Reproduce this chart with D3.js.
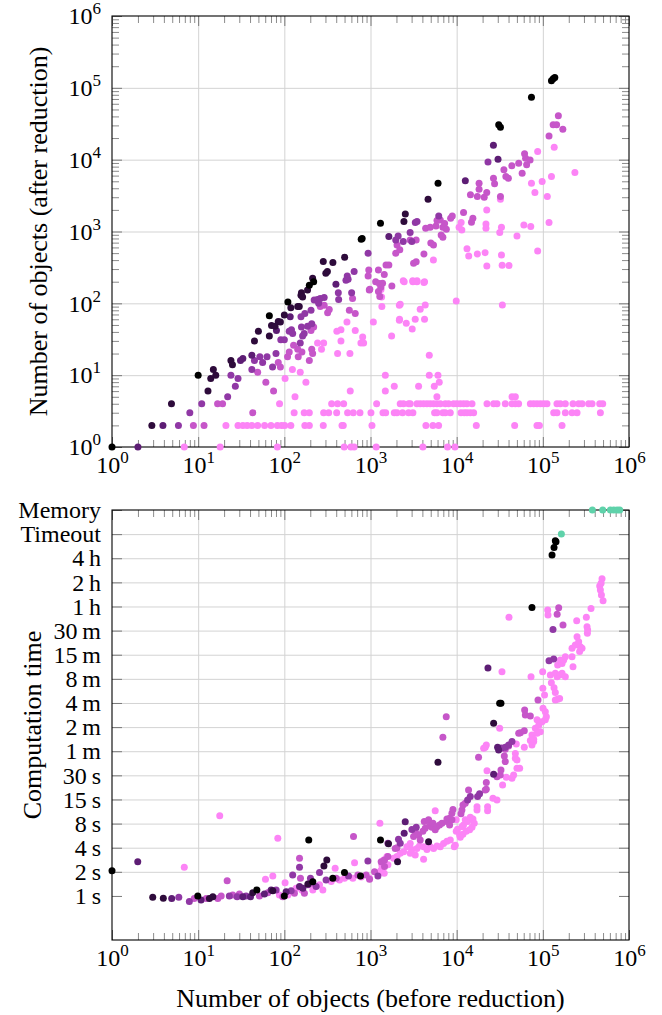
<!DOCTYPE html>
<html>
<head>
<meta charset="utf-8">
<script src="https://cdn.jsdelivr.net/npm/d3@7"></script>
<style>
	body { margin: 0; background: #fff; }
	svg, svg text { font-family: 'Liberation Serif', 'Tinos', 'DejaVu Serif', serif; fill: #000; }
	.tick-label text { font-size: 24px; }
	.axis-title { font-size: 26px; }
	.grid line { stroke: #d3d3d3; stroke-width: 1; }
	.frame { fill: none; stroke: #000; stroke-width: 1.1; }
</style>
</head>
<body>
<svg id="chart" width="662" height="1015" font-family="Liberation Serif, DejaVu Serif, serif"></svg>
<script>
/*
 *	reduction scatter: objects before / after reduction and computation time
 */
'use strict';

// ---- axis values -------------------------------------------------------
var decadeTicks = [1, 10, 100, 1e3, 1e4, 1e5, 1e6];
var decadeExponents = ['0', '1', '2', '3', '4', '5', '6'];
var timeTicks = [1, 2, 4, 8, 16, 32, 64, 128, 256, 512, 1024, 2048, 4096, 8192, 16384, 32768, 65536];
var timeLabels = ['1\u2009s', '2\u2009s', '4\u2009s', '8\u2009s', '15\u2009s', '30\u2009s', '1\u2009m', '2\u2009m', '4\u2009m',
	'8\u2009m', '15\u2009m', '30\u2009m', '1\u2009h', '2\u2009h', '4\u2009h', 'Timeout', 'Memory'];
var timeAxisMin = 0.282;

// ---- top chart: [objects before, objects after] ---------------------------
var reducedBlack = [[1, 1], [10, 10], [67, 67], [110, 104], [195, 179], [219, 200], [780, 782], [800, 800], [1306, 1303],
	[6080, 4710], [30760, 30550], [32210, 28380], [73800, 74100], [125900, 125900], [131800, 133400], [137700, 139300]];

var reducedDark = [[2.9, 2], [4.9, 4], [13, 6], [14, 9], [15, 12], [16, 10], [24, 16], [25, 14], [45, 30], [50, 41], [67, 35],
	[71, 49], [78, 48], [85, 56], [90, 55], [100, 69], [119, 87], [143, 90], [149, 90], [156, 130], [158, 140], [163, 123],
	[186, 153], [213, 223], [283, 381], [303, 262], [316, 277], [366, 369], [501, 439], [2443, 1374], [2535, 1758], [4656, 2818]];

var reducedDeep = [[2, 1], [3.9, 2], [31, 16], [33, 17], [42, 19], [81, 42], [117, 65], [397, 185], [1633, 849], [12600, 5070],
	[26700, 15900], [30200, 10160]];

var reducedPurple = [[5.9, 2], [8, 3], [11, 4], [22, 5], [24, 10], [27, 7], [29, 9], [42, 12], [45, 16], [52, 18], [56, 15],
	[63, 18], [73, 13], [80, 20], [91, 31], [100, 31], [114, 41], [121, 43], [125, 38], [153, 28], [156, 65], [158, 47], [163, 35],
	[170, 38], [173, 72], [186, 48], [204, 80], [208, 52], [222, 111], [243, 113], [250, 100], [261, 117], [290, 121], [423, 140],
	[427, 113], [519, 210], [537, 241], [550, 216], [604, 140], [646, 277], [938, 498], [1963, 764], [2094, 869], [2399, 724],
	[2884, 966], [3020, 724], [3311, 1330], [3467, 1374], [6194, 1648], [23100, 9310]];

var reducedOrchid = [[8.8, 2], [11.7, 2], [16.8, 4], [19.2, 4], [43, 3], [49, 11], [61, 8], [75, 6], [85, 15], [90, 13], [109, 18],
	[114, 21], [128, 26], [143, 23], [145, 18], [160, 21], [195, 16], [204, 42], [208, 23], [213, 20], [219, 47], [261, 90],
	[290, 94], [318, 74], [332, 82], [568, 80], [619, 117], [665, 72], [938, 240], [955, 292], [968, 153], [982, 157], [1148, 200],
	[1236, 146], [1236, 292], [1265, 189], [1282, 124], [1318, 167], [1380, 190], [1445, 251], [1514, 343], [1633, 343],
	[1770, 175], [1963, 498], [2032, 650], [2188, 555], [2884, 764], [3162, 361], [3388, 380], [3388, 764], [4169, 488],
	[4365, 1112], [4932, 1148], [5012, 692], [5383, 650], [5754, 1197], [5916, 1419], [6457, 1445], [6607, 897], [6918, 832],
	[6918, 1148], [7244, 1288], [7586, 1076], [8511, 1531], [8892, 1648], [12020, 1832], [14450, 3236], [14860, 1349],
	[15420, 1531], [17380, 3062], [18200, 3882], [18200, 4710], [20890, 2999], [22340, 3483], [26730, 5521], [27540, 4603],
	[32210, 3062], [35320, 7211], [37240, 5821], [39810, 5521], [43650, 8204], [52480, 8933], [57540, 6486], [61380, 12050],
	[63100, 10500], [64860, 8472], [71120, 9931], [118000, 21430], [131800, 30550], [144500, 30550], [151400, 40740],
	[170600, 26610]];

var reducedPink = [
	[6.9, 1], [18, 1], [83, 1], [495, 1], [592, 1], [646, 1], [1164, 1], [4055, 1], [7830, 1], [9550, 1],
	[21, 2], [29, 2], [33, 2], [37, 2], [42, 2], [49, 2], [59, 2], [70, 2], [83, 2], [93, 2], [101, 2], [119, 2], [173, 2],
	[195, 2], [283, 2], [467, 2], [483, 2], [1040, 2], [4395, 2], [5300, 2], [6170, 2], [16900, 2], [47100, 2], [85500, 2],
	[91200, 2], [167000, 2],
	[130, 3], [170, 3], [195, 3], [286, 3], [327, 3], [405, 3], [542, 3], [631, 3], [755, 3], [1012, 3], [1396, 3], [1500, 3],
	[1888, 3], [2028, 3], [2355, 3], [2767, 3], [3105, 3], [5546, 3], [5902, 3], [6918, 3], [7379, 3], [8433, 3], [11220, 3],
	[12250, 3], [13180, 3], [14390, 3], [15740, 3], [133700, 3], [145900, 3], [182400, 3], [218300, 3], [249500, 3], [465600, 3],
	[88, 4], [354, 4], [415, 4], [488, 4], [1178, 4], [2213, 4], [2415, 4], [2767, 4], [2891, 4], [3459, 4], [3776, 4], [4130, 4],
	[4519, 4], [4932, 4], [5395, 4], [5902, 4], [6457, 4], [7379, 4], [8054, 4], [9204, 4], [10070, 4], [11020, 4], [12050, 4],
	[13150, 4], [15070, 4], [22490, 4], [26850, 4], [29380, 4], [36640, 4], [43850, 4], [47970, 4], [52360, 4], [71610, 4],
	[78160, 4], [85510, 4], [93540, 4], [102300, 4], [111700, 4], [145900, 4], [159600, 4], [182400, 4], [223900, 4],
	[260600, 4], [285100, 4], [340400, 4], [372400, 4], [457100, 4], [495500, 4],
	[5900, 5], [43900, 5], [48000, 5], [133, 5], [582, 6], [1486, 6], [1888, 7], [3614, 7], [5500, 7], [6280, 8], [178, 8],
	[102, 9], [1486, 10], [4810, 10], [6070, 10], [153, 11], [124, 12], [4810, 19], [243, 28], [286, 28], [270, 23], [415, 20],
	[577, 20], [454, 30], [811, 34], [774, 28], [832, 28], [1758, 35], [407, 41], [454, 43], [665, 42], [533, 55], [1079, 55],
	[3048, 44], [2600, 53], [2173, 60], [3304, 60], [4236, 60], [2163, 58], [3776, 83], [1355, 90], [2163, 94], [2213, 97],
	[4315, 95], [9886, 108], [33900, 95], [1346, 123], [1324, 156], [2460, 200], [3105, 200], [3459, 200], [4236, 200],
	[2399, 207], [3090, 207], [3467, 207], [4169, 195], [5370, 402], [13180, 573], [13800, 457], [17380, 488], [21380, 508],
	[22390, 332], [33110, 472], [33730, 339], [40460, 335], [50120, 869], [87100, 537], [10670, 1148], [11270, 1330],
	[11480, 1052], [21880, 1276], [21880, 1112], [22340, 1995], [31620, 966], [33110, 1148], [60260, 1236], [72440, 1172],
	[118000, 1330], [32210, 2818], [73790, 4710], [80910, 3483], [98200, 4955], [112700, 3062], [125900, 5821],
	[87100, 12970], [135500, 14930], [235500, 6607]];

// ---- bottom chart: [objects before, seconds] ------------------------------
var timeBlack = [[1, 2.06], [9.9, 1.0], [48, 1.19], [100, 1.0], [192, 5.0], [214, 1.5], [365, 1.66], [499, 1.96], [766, 1.78],
	[1306, 5.0], [31550, 254], [32660, 254], [74820, 3985], [127900, 17930], [134900, 22230], [139600, 27180], [142200, 26250]];

var timeDark = [[2.97, 0.966], [3.94, 0.933], [13.5, 0.93], [14.8, 0.98], [43, 1.1], [73.5, 1.16], [188, 1.41], [288, 2.36],
	[311, 2.81], [1618, 4.47], [2061, 2.68], [4721, 4.76], [6067, 46.5], [26850, 143]];

var timeDeep = [[1.99, 2.68], [4.93, 0.93], [10.8, 0.89], [33, 0.98], [40.5, 0.98], [58.7, 1.06], [70.3, 1.19], [105, 1.13],
	[150, 1.31], [164, 1.25], [2460, 6.06], [2529, 8.46], [23070, 700], [26850, 32.9], [29850, 71.5], [30690, 66.3]];

var timePurple = [[5.96, 0.966], [7.9, 0.85], [23, 1.0], [28.3, 0.98], [36, 1.0], [80.4, 1.19], [120, 1.16], [125, 1.83],
	[150, 2.28], [188, 1.38], [201, 1.66], [234, 1.31], [256, 1.96], [305, 1.58], [556, 1.78], [933, 2.73], [1219, 1.78],
	[1592, 4.53], [2113, 5.1], [2213, 4.53], [3020, 6.77], [3396, 7.21], [13400, 15.8], [14390, 17.4], [17500, 17.4],
	[18450, 18.8], [33000, 70], [36640, 71.5], [40090, 76.6], [43850, 84.4], [118000, 861], [131200, 2120], [133700, 904]];

var timeOrchid = [[9.0, 0.93], [12.4, 0.93], [16.9, 0.93], [18.5, 1.0], [21.7, 1.55], [25.2, 1.03], [30.1, 1.06], [51.4, 1.0],
	[64.3, 1.1], [95.9, 0.98], [131, 1.08], [150, 2.95], [154, 1.66], [171, 1.08], [205, 1.44], [400, 1.66], [635, 5.5],
	[713, 1.83], [891, 1.83], [975, 1.61], [1114, 2.01], [1330, 2.68], [1455, 2.81], [1455, 2.33], [1592, 3.1], [1936, 3.9],
	[2028, 4.0], [3162, 5.5], [3304, 6.4], [3614, 5.8], [3776, 5.0], [4055, 6.4], [4207, 8.5], [4315, 7.0], [4721, 8.9],
	[4853, 7.5], [5164, 7.2], [5309, 8.1], [5636, 6.7], [5902, 7.3], [6324, 7.7], [6745, 8.1], [6918, 95.7], [7568, 172],
	[7709, 8.5], [7709, 9.1], [8279, 7.7], [8279, 9.3], [8810, 8.9], [8810, 10.8], [9057, 12.0], [11220, 10.6], [11510, 11.8],
	[11830, 13.6], [12590, 14.3], [13740, 21], [17950, 53.8], [21480, 21], [22080, 21.4], [22080, 26], [29380, 30.7],
	[32060, 32.4], [32660, 37.3], [35730, 55.7], [36640, 47.5], [36640, 67.6], [40090, 74.5], [52480, 107], [54830, 109],
	[60950, 115], [61520, 209], [62660, 181], [71610, 176], [87900, 278], [146600, 3281], [152800, 3956], [171400, 2402]];

var timePink = [[6.9, 2.28], [17.8, 10.0], [60.4, 1.61], [73.5, 1.78], [84, 5.24], [87.7, 1.03], [102, 1.46], [110, 1.03],
	[137, 1.25], [160, 1.19], [214, 1.19], [256, 1.38], [280, 1.19], [350, 1.51], [389, 2.22], [437, 1.58], [499, 1.66],
	[624, 1.66], [653, 2.6], [780, 1.72], [975, 1.66], [1219, 1.92], [1285, 8.06], [1297, 2.0], [1330, 2.11], [1355, 2.43],
	[1419, 2.81], [1442, 1.92], [1552, 3.1], [1592, 2.45], [1854, 2.95], [2028, 3.1], [2213, 3.41], [2421, 3.56], [2642, 4.1],
	[2891, 3.41], [2891, 4.5], [3020, 3.8], [3304, 3.25], [3459, 3.9], [3698, 4.2], [4130, 2.87], [4130, 4.1], [4519, 3.8],
	[4932, 4.1], [5395, 3.9], [5636, 11.6], [5902, 4.2], [6457, 4.1], [7047, 4.5], [7709, 4.8], [8433, 5.0], [9376, 4.1],
	[9638, 4.3], [9886, 6.4], [9886, 8.9], [10230, 6.8], [10810, 5.8], [11020, 5.4], [11510, 7.3], [11830, 5.9], [12020, 7.7],
	[12590, 8.9], [12910, 6.4], [13400, 8.5], [14130, 6.7], [14390, 9.6], [15070, 7.2], [15450, 9.1], [16000, 8.1],
	[17220, 11.8], [17220, 13.0], [20560, 69.6], [21480, 71.5], [22080, 76.6], [22490, 36.5], [22850, 11.6], [22850, 13.0],
	[26360, 16.6], [29380, 15.8], [31550, 124], [33570, 630], [34120, 24.3], [37670, 30.3], [40460, 3000], [43850, 29.4],
	[45810, 32.4], [47970, 52.3], [47970, 60.1], [49200, 78.8], [50120, 39.1], [50120, 49.9], [53830, 39.1], [60950, 71.5],
	[71610, 86.8], [72950, 545], [74820, 76.6], [74820, 102], [78340, 84.4], [78340, 90.5], [81850, 124], [85700, 107],
	[85700, 158], [89540, 135], [93540, 112], [97720, 149], [99540, 630], [100000, 391], [100500, 220], [104700, 322],
	[106900, 158], [106900, 199], [109900, 172], [113800, 3690], [114800, 3213], [122200, 572], [125600, 458], [134900, 396],
	[139600, 278], [139600, 345], [139600, 600], [146600, 545], [148600, 284], [148600, 765], [156700, 292], [156700, 572],
	[159600, 879], [167100, 600], [167100, 798], [174600, 879], [182400, 545], [182400, 969], [218300, 969], [218300, 1235],
	[223900, 724], [238200, 1351], [247200, 2722], [249500, 1722], [260600, 1489], [267300, 1121], [272300, 1287],
	[285100, 1235], [319900, 3000], [325800, 2288], [328800, 1898], [331100, 2091], [362400, 3875], [457100, 7380],
	[465600, 6560], [474300, 7970], [478600, 5710], [486400, 9090], [500000, 4840]];

var timeoutRuns = [164100];
var memoryRuns = [375800, 495500, 608100, 665300, 727800, 779800];

// ---- layout and style --------------------------------------------------
var plotLeft = 112,
	plotRight = 629,
	topPanel = { top: 16, bottom: 447 },
	bottomPanel = { top: 510, bottom: 940 },
	dotR = 3.5,
	majorTick = 10,
	minorTick = 7,
	serif = "'Liberation Serif', 'Tinos', 'DejaVu Serif', serif";

var colors = {
	black: '#000000',
	dark: '#2e0b3b',
	deep: '#5d1d74',
	purple: '#9038a5',
	orchid: '#c656c9',
	pink: '#fc84f6',
	out: '#5fd2aa'
};

var minorValues = [];
decadeTicks.slice(0, -1).forEach(function (d) {
	for (var k = 2; k < 10; k++) { minorValues.push(d * k); }
});

var svg = d3.select('#chart');

var xScale = d3.scaleLog().domain([1, 1e6]).range([plotLeft, plotRight]),
	yScaleTop = d3.scaleLog().domain([1, 1e6]).range([topPanel.bottom, topPanel.top]),
	yScaleBottom = d3.scaleLog().base(2).domain([timeAxisMin, timeTicks[timeTicks.length - 1]])
		.range([bottomPanel.bottom, bottomPanel.top]);

function cleanAxis(g, stroke) {
	g.attr('font-family', serif).attr('font-size', null);
	g.select('.domain').remove();
	g.selectAll('line').attr('stroke', stroke);
	g.selectAll('text').attr('font-family', serif);
	return g;
}

function powerLabels(g) {
	g.selectAll('.tick text').each(function (d, i) {
		var t = d3.select(this);
		t.text(null);
		t.append('tspan').text('10');
		t.append('tspan').attr('dy', -10).style('font-size', '17px').text(decadeExponents[i]);
	});
}

function drawPanel(panel, yScale, yTicks, yMinor, yLabelFn) {
	var g = svg.append('g'),
		h = panel.bottom - panel.top,
		w = plotRight - plotLeft;

	// GRID
	g.append('g').attr('class', 'grid')
		.attr('transform', 'translate(0,' + panel.bottom + ')')
		.call(d3.axisBottom(xScale).tickValues(decadeTicks.slice(1, -1)).tickSize(-h).tickFormat(''))
		.call(function (s) { s.select('.domain').remove(); });

	g.append('g').attr('class', 'grid')
		.attr('transform', 'translate(' + plotLeft + ',0)')
		.call(d3.axisLeft(yScale).tickValues(yTicks.slice(1, -1)).tickSize(-w).tickFormat(''))
		.call(function (s) { s.select('.domain').remove(); });

	// X TICKS
	g.append('g').attr('transform', 'translate(0,' + panel.bottom + ')')
		.call(d3.axisBottom(xScale).tickValues(minorValues).tickSizeInner(-minorTick).tickSizeOuter(0).tickFormat(''))
		.call(cleanAxis, '#8c8c8c');
	g.append('g').attr('transform', 'translate(0,' + panel.top + ')')
		.call(d3.axisTop(xScale).tickValues(minorValues).tickSizeInner(-minorTick).tickSizeOuter(0).tickFormat(''))
		.call(cleanAxis, '#8c8c8c');
	g.append('g').attr('transform', 'translate(0,' + panel.top + ')')
		.call(d3.axisTop(xScale).tickValues(decadeTicks).tickSizeInner(-majorTick).tickSizeOuter(0).tickFormat(''))
		.call(cleanAxis, '#7a7a7a');
	g.append('g').attr('class', 'tick-label')
		.attr('transform', 'translate(0,' + panel.bottom + ')')
		.call(d3.axisBottom(xScale).tickValues(decadeTicks).tickSizeInner(-majorTick).tickSizeOuter(0).tickPadding(9))
		.call(cleanAxis, '#7a7a7a')
		.call(powerLabels);

	// Y TICKS
	if (yMinor) {
		g.append('g').attr('transform', 'translate(' + plotLeft + ',0)')
			.call(d3.axisLeft(yScale).tickValues(yMinor).tickSizeInner(-minorTick).tickSizeOuter(0).tickFormat(''))
			.call(cleanAxis, '#8c8c8c');
		g.append('g').attr('transform', 'translate(' + plotRight + ',0)')
			.call(d3.axisRight(yScale).tickValues(yMinor).tickSizeInner(-minorTick).tickSizeOuter(0).tickFormat(''))
			.call(cleanAxis, '#8c8c8c');
	}
	g.append('g').attr('transform', 'translate(' + plotRight + ',0)')
		.call(d3.axisRight(yScale).tickValues(yTicks).tickSizeInner(-majorTick).tickSizeOuter(0).tickFormat(''))
		.call(cleanAxis, '#7a7a7a');
	var left = g.append('g').attr('class', 'tick-label')
		.attr('transform', 'translate(' + plotLeft + ',0)')
		.call(d3.axisLeft(yScale).tickValues(yTicks).tickSizeInner(-majorTick).tickSizeOuter(0).tickPadding(11))
		.call(cleanAxis, '#7a7a7a');
	yLabelFn(left);

	g.append('rect').attr('class', 'frame')
		.attr('x', plotLeft).attr('y', panel.top)
		.attr('width', w).attr('height', h);

	return g;
}

function drawDots(g, data, yScale, color) {
	g.selectAll(null)
		.data(data)
		.enter()
		.append('circle')
		.attr('cx', function (d) { return xScale(d[0]); })
		.attr('cy', function (d) { return yScale(d[1]); })
		.attr('r', dotR)
		.attr('fill', color);
}

// TOP PANEL
var topG = drawPanel(topPanel, yScaleTop, decadeTicks, minorValues, powerLabels);
drawDots(topG, reducedPink, yScaleTop, colors.pink);
drawDots(topG, reducedOrchid, yScaleTop, colors.orchid);
drawDots(topG, reducedPurple, yScaleTop, colors.purple);
drawDots(topG, reducedDeep, yScaleTop, colors.deep);
drawDots(topG, reducedDark, yScaleTop, colors.dark);
drawDots(topG, reducedBlack, yScaleTop, colors.black);

// BOTTOM PANEL
var bottomG = drawPanel(bottomPanel, yScaleBottom, timeTicks, null, function (g) {
	g.selectAll('.tick text').text(function (d, i) { return timeLabels[i]; });
});
drawDots(bottomG, timePink, yScaleBottom, colors.pink);
drawDots(bottomG, timeOrchid, yScaleBottom, colors.orchid);
drawDots(bottomG, timePurple, yScaleBottom, colors.purple);
drawDots(bottomG, timeDeep, yScaleBottom, colors.deep);
drawDots(bottomG, timeDark, yScaleBottom, colors.dark);
drawDots(bottomG, timeBlack, yScaleBottom, colors.black);

var timeoutLevel = timeTicks[timeLabels.indexOf('Timeout')],
	memoryLevel = timeTicks[timeLabels.indexOf('Memory')];
drawDots(bottomG, timeoutRuns.map(function (x) { return [x, timeoutLevel]; }), yScaleBottom, colors.out);
drawDots(bottomG, memoryRuns.map(function (x) { return [x, memoryLevel]; }), yScaleBottom, colors.out);

// AXIS TITLES
svg.append('text').attr('class', 'axis-title')
	.attr('font-family', serif)
	.attr('transform', 'translate(47,' + (topPanel.top + topPanel.bottom) / 2 + ') rotate(-90)')
	.attr('text-anchor', 'middle')
	.text('Number of objects (after reduction)');

svg.append('text').attr('class', 'axis-title')
	.attr('font-family', serif)
	.attr('transform', 'translate(41,' + (bottomPanel.top + bottomPanel.bottom) / 2 + ') rotate(-90)')
	.attr('text-anchor', 'middle')
	.text('Computation time');

svg.append('text').attr('class', 'axis-title')
	.attr('font-family', serif)
	.attr('x', (plotLeft + plotRight) / 2)
	.attr('y', 1007)
	.attr('text-anchor', 'middle')
	.text('Number of objects (before reduction)');
</script>
</body>
</html>
